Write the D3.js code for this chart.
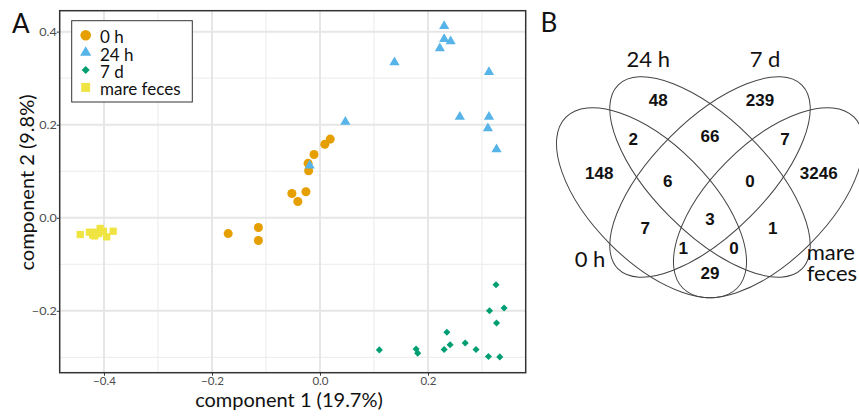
<!DOCTYPE html>
<html>
<head>
<meta charset="utf-8">
<script src="https://cdn.jsdelivr.net/npm/d3@7"></script>
<style>
body { margin: 0; background: #fff; }
svg { display: block; font-family: Lato, "Open Sans", sans-serif; }
</style>
</head>
<body>
<svg id="fig" width="859" height="416"></svg>
<script>
// --- data: panel A (PCoA scores) ---
const groups = ['0 h', '24 h', '7 d', 'mare feces'];
const scores0h = [[-0.170, -0.034], [-0.114, -0.021], [-0.114, -0.049], [-0.052, 0.052], [-0.041, 0.035],
	[-0.026, 0.056], [-0.021, 0.101], [-0.022, 0.117], [-0.011, 0.136], [0.009, 0.158], [0.019, 0.169]];
const scores24h = [[0.230, 0.412], [0.230, 0.384], [0.242, 0.379], [0.222, 0.364], [0.138, 0.334],
	[0.313, 0.313], [0.047, 0.206], [0.259, 0.217], [0.313, 0.217], [0.311, 0.192], [0.327, 0.147], [-0.019, 0.112]];
const scores7d = [[0.326, -0.144], [0.341, -0.194], [0.314, -0.200], [0.327, -0.226], [0.235, -0.246],
	[0.110, -0.284], [0.178, -0.282], [0.181, -0.291], [0.230, -0.283], [0.241, -0.273], [0.269, -0.269],
	[0.289, -0.283], [0.312, -0.298], [0.333, -0.299]];
const scoresMare = [[-0.444, -0.036], [-0.427, -0.031], [-0.421, -0.037], [-0.417, -0.039], [-0.414, -0.031],
	[-0.407, -0.023], [-0.401, -0.029], [-0.395, -0.041], [-0.383, -0.029], [-0.410, -0.034]];
const xTicks = [-0.4, -0.2, 0.0, 0.2];
const yTicks = [-0.2, 0.0, 0.2, 0.4];
const xMinor = [-0.3, -0.1, 0.1, 0.3];
const yMinor = [-0.3, -0.1, 0.1, 0.3];

// --- data: panel B (Venn counts; a=0 h, b=24 h, c=7 d, d=mare feces) ---
const vennSets = ['0 h', '24 h', '7 d', 'mare feces'];
const vennKeys = ['a', 'b', 'c', 'd', 'ab', 'bc', 'cd', 'ac', 'bd', 'ad', 'abc', 'bcd', 'acd', 'abd', 'abcd'];
const vennCounts = [148, 48, 239, 3246, 2, 66, 7, 7, 1, 29, 6, 0, 1, 0, 3];

const colors = { '0 h': '#E69F00', '24 h': '#56B4E9', '7 d': '#009E73', 'mare feces': '#F0E442' };
const seriesData = { '0 h': scores0h, '24 h': scores24h, '7 d': scores7d, 'mare feces': scoresMare };

const svg = d3.select('#fig');

// ---------- panel A ----------
const pLeft = 59.7, pRight = 525.7, pTop = 10.7, pBottom = 372.7;
const x = d3.scaleLinear().domain([-0.482, 0.381]).range([pLeft, pRight]);
const y = d3.scaleLinear().domain([-0.333, 0.445]).range([pBottom, pTop]);

const gA = svg.append('g');

gA.append('rect')
	.attr('x', pLeft).attr('y', pTop).attr('width', pRight - pLeft).attr('height', pBottom - pTop)
	.attr('fill', '#fff');

// grid
gA.selectAll('line.xminor').data(xMinor).enter().append('line')
	.attr('x1', d => x(d)).attr('x2', d => x(d)).attr('y1', pTop).attr('y2', pBottom)
	.attr('stroke', '#ebebeb').attr('stroke-width', 1);
gA.selectAll('line.yminor').data(yMinor).enter().append('line')
	.attr('y1', d => y(d)).attr('y2', d => y(d)).attr('x1', pLeft).attr('x2', pRight)
	.attr('stroke', '#ebebeb').attr('stroke-width', 1);
gA.selectAll('line.xmajor').data(xTicks).enter().append('line')
	.attr('x1', d => x(d)).attr('x2', d => x(d)).attr('y1', pTop).attr('y2', pBottom)
	.attr('stroke', '#e6e6e6').attr('stroke-width', 2);
gA.selectAll('line.ymajor').data(yTicks).enter().append('line')
	.attr('y1', d => y(d)).attr('y2', d => y(d)).attr('x1', pLeft).attr('x2', pRight)
	.attr('stroke', '#e6e6e6').attr('stroke-width', 2);

// points
const shapes = {
	'0 h': { type: d3.symbolCircle, size: 64, rot: 0 },
	'24 h': { type: d3.symbolTriangle, size: 45, rot: 0 },
	'7 d': { type: d3.symbolSquare, size: 25, rot: 45 },
	'mare feces': { type: d3.symbolSquare, size: 53, rot: 0 }
};
const legendShapes = {
	'0 h': 88, '24 h': 54, '7 d': 32, 'mare feces': 80
};

groups.forEach(grp => {
	const s = shapes[grp];
	gA.append('g').selectAll('path').data(seriesData[grp]).enter().append('path')
		.attr('d', d3.symbol(s.type, s.size))
		.attr('transform', d => `translate(${x(d[0])},${y(d[1])}) rotate(${s.rot})`)
		.attr('fill', colors[grp]);
});

// border
gA.append('rect')
	.attr('x', pLeft).attr('y', pTop).attr('width', pRight - pLeft).attr('height', pBottom - pTop)
	.attr('fill', 'none').attr('stroke', '#333').attr('stroke-width', 1.5);

// axes
const xAxis = gA.append('g').attr('transform', `translate(0,${pBottom})`)
	.call(d3.axisBottom(x).tickValues(xTicks).tickSize(3).tickPadding(1).tickFormat(d3.format('.1f')));
const yAxis = gA.append('g').attr('transform', `translate(${pLeft},0)`)
	.call(d3.axisLeft(y).tickValues(yTicks).tickSize(3).tickPadding(0).tickFormat(d3.format('.1f')));
[xAxis, yAxis].forEach(ax => {
	ax.select('.domain').remove();
	ax.selectAll('line').attr('stroke', '#333');
	ax.selectAll('text').attr('fill', '#4d4d4d').attr('font-family', 'Lato, sans-serif');
});
xAxis.selectAll('text').attr('font-size', 11.5);
yAxis.selectAll('text').attr('font-size', 10.5)
	.attr('x', -3 / 1.2).attr('transform', 'scale(1.2,1)');

gA.append('text').attr('x', 289).attr('y', 406.5)
	.attr('text-anchor', 'middle').attr('font-size', 20).attr('fill', '#111')
	.text('component 1 (19.7%)');
gA.append('text').attr('transform', 'translate(33.5,182.5) rotate(-90)')
	.attr('text-anchor', 'middle').attr('font-size', 20).attr('fill', '#111')
	.text('component 2 (9.8%)');

// legend
const legend = gA.append('g');
legend.append('rect')
	.attr('x', 71.7).attr('y', 20.7).attr('width', 120.6).attr('height', 81.3)
	.attr('fill', '#fff').attr('stroke', '#333').attr('stroke-width', 1);
groups.forEach((grp, i) => {
	const cy = 35.2 + i * 17.4;
	const s = shapes[grp];
	legend.append('path')
		.attr('d', d3.symbol(s.type, legendShapes[grp]))
		.attr('transform', `translate(85.7,${cy}) rotate(${s.rot})`)
		.attr('fill', colors[grp]);
	legend.append('text').attr('x', 100).attr('y', cy + 8)
		.attr('font-size', 17).attr('fill', '#111').text(grp);
});

svg.append('text').attr('x', 12).attr('y', 33).attr('font-size', 26).attr('fill', '#111').text('A');
svg.append('text').attr('x', 540.5).attr('y', 32).attr('font-size', 26).attr('fill', '#111').text('B');

// ---------- panel B ----------
const vcx = 710, vcy = 180;
const vx = d3.scaleLinear().domain([-1, 1]).range([vcx - 100, vcx + 100]);
const vy = d3.scaleLinear().domain([-1, 1]).range([vcy - 100, vcy + 100]);

// ellipse layout (offsets / 100 px), not data
const ellipses = [
	{ set: '0 h', dx: -0.585, dy: 0.227, a: 1.21, b: 0.585, rot: 45 },
	{ set: '24 h', dx: 0, dy: -0.03, a: 1.30, b: 0.565, rot: 45 },
	{ set: '7 d', dx: 0, dy: -0.03, a: 1.30, b: 0.565, rot: -45 },
	{ set: 'mare feces', dx: 0.585, dy: 0.227, a: 1.21, b: 0.585, rot: -45 }
];
const gB = svg.append('g');
gB.selectAll('ellipse').data(ellipses).enter().append('ellipse')
	.attr('cx', d => vx(d.dx)).attr('cy', d => vy(d.dy))
	.attr('rx', d => vx(d.a) - vx(0)).attr('ry', d => vx(d.b) - vx(0))
	.attr('transform', d => `rotate(${d.rot},${vx(d.dx)},${vy(d.dy)})`)
	.attr('fill', 'none').attr('stroke', '#444').attr('stroke-width', 1);

const labelPos = {
	a: [-1.107, -0.07], b: [-0.517, -0.80], c: [0.50, -0.80], d: [1.087, -0.07],
	ab: [-0.767, -0.407], bc: [0, -0.44], cd: [0.75, -0.407], ac: [-0.647, 0.477],
	bd: [0.627, 0.477], ad: [0, 0.933], abc: [-0.423, 0.01], bcd: [0.40, 0.01],
	acd: [-0.267, 0.683], abd: [0.24, 0.683], abcd: [0, 0.387]
};
gB.selectAll('text.count').data(vennKeys).enter().append('text')
	.attr('x', k => vx(labelPos[k][0])).attr('y', k => vy(labelPos[k][1]))
	.attr('dy', '0.36em').attr('text-anchor', 'middle')
	.attr('font-family', '"Liberation Sans", Arial, sans-serif').attr('font-weight', 'bold')
	.attr('font-size', 17).attr('fill', '#111')
	.text((k, i) => vennCounts[i]);

const setLabelPos = [
	{ x: -1.20, y: 0.867, anchor: 'middle' },
	{ x: -0.617, y: -1.133, anchor: 'middle' },
	{ x: 0.55, y: -1.133, anchor: 'middle' },
	{ x: 0.967, y: 0.80, anchor: 'start' }
];
vennSets.forEach((name, i) => {
	const p = setLabelPos[i];
	const lines = name === 'mare feces' ? ['mare', 'feces'] : [name];
	lines.forEach((ln, j) => {
		gB.append('text').attr('x', vx(p.x)).attr('y', vy(p.y) + j * 21)
			.attr('text-anchor', p.anchor).attr('font-size', 22).attr('fill', '#111')
			.text(ln);
	});
});
</script>
</body>
</html>
